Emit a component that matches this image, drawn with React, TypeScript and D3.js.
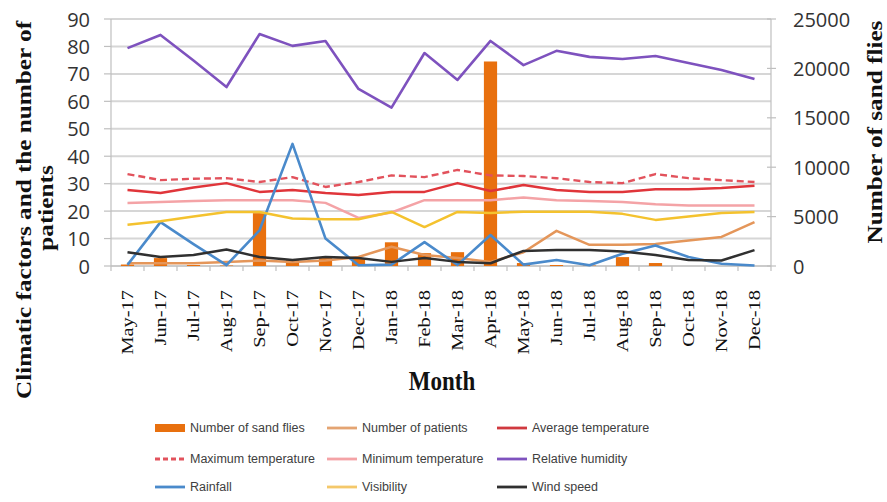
import React from 'react';
import * as d3 from 'd3';

// Monthly observations, May 2017 – Dec 2018
const months = [
  'May-17', 'Jun-17', 'Jul-17', 'Aug-17', 'Sep-17', 'Oct-17', 'Nov-17', 'Dec-17',
  'Jan-18', 'Feb-18', 'Mar-18', 'Apr-18', 'May-18', 'Jun-18', 'Jul-18', 'Aug-18',
  'Sep-18', 'Oct-18', 'Nov-18', 'Dec-18',
];

// Right axis (bars)
const sandFlies = [150, 800, 100, 50, 5350, 600, 800, 800, 2400, 1300, 1400, 20700, 300, 100, 50, 900, 300, 0, 0, 0];

// Left axis (lines)
const patients = [1, 1, 1, 1.5, 2, 1.5, 2, 3.3, 7, 4, 2.9, 1.5, 5, 12.8, 7.7, 7.7, 8, 9.3, 10.6, 16];
const avgTemp = [27.7, 26.6, 28.6, 30.2, 27, 27.7, 26.6, 25.9, 27, 27, 30.2, 27.3, 29.5, 27.7, 27, 27, 28, 28, 28.4, 29.2];
const maxTemp = [33.5, 31.3, 31.8, 32, 30.6, 32.4, 28.8, 30.6, 33, 32.4, 35, 33, 32.8, 32, 30.6, 30.2, 33.5, 32, 31.3, 30.6];
const minTemp = [23, 23.3, 23.7, 24, 24, 24, 23, 17.5, 19.5, 24, 24, 24, 25, 24, 23.7, 23.3, 22.5, 22, 22, 22];
const humidity = [79.4, 84.2, 74.9, 65.2, 84.5, 80.2, 82, 64.5, 57.7, 77.6, 67.8, 82, 73.2, 78.4, 76.2, 75.4, 76.5, 74, 71.4, 68.1];
const rainfall = [0.4, 16, 8, 0.3, 13, 44.5, 10, 0.3, 0.5, 8.7, 0.4, 11.3, 0.5, 2.2, 0.3, 4.5, 7.5, 3.3, 0.8, 0.2];
const visibility = [15, 16.3, 18, 19.7, 19.7, 17.3, 17, 17, 19.7, 14.2, 19.7, 19.3, 19.8, 19.8, 19.8, 19, 16.8, 18, 19.3, 19.7];
const windSpeed = [5, 3.3, 4, 6, 3.3, 2.2, 3.3, 2.9, 1.5, 2.9, 1.5, 1, 5.5, 5.8, 5.8, 5.3, 4, 2.2, 2, 5.8];

const leftTicks = [0, 10, 20, 30, 40, 50, 60, 70, 80, 90];
const rightTicks = [0, 5000, 10000, 15000, 20000, 25000];

const W = 887;
const H = 502;
const plot = { left: 111, right: 771, top: 19, bottom: 266 };

const BAR_COLOR = '#E8700E';

type Series = { name: string; values: number[]; color: string; width: number; dash?: string };

const lineSeries: Series[] = [
  { name: 'Number of patients', values: patients, color: '#E4965A', width: 2.5 },
  { name: 'Average temperature', values: avgTemp, color: '#E0353A', width: 2.5 },
  { name: 'Maximum temperature', values: maxTemp, color: '#E2525C', width: 2.4, dash: '7,4' },
  { name: 'Minimum temperature', values: minTemp, color: '#F4A3A6', width: 2.5 },
  { name: 'Relative humidity', values: humidity, color: '#7E52BE', width: 2.6 },
  { name: 'Rainfall', values: rainfall, color: '#4A8ACB', width: 2.6 },
  { name: 'Visibility', values: visibility, color: '#F4C22E', width: 2.5 },
  { name: 'Wind speed', values: windSpeed, color: '#303030', width: 2.5 },
];

// Legend layout: three columns, three rows
const legendItems = [
  { name: 'Number of sand flies', kind: 'bar', color: BAR_COLOR },
  { name: 'Number of patients', kind: 'line', color: '#E4A472' },
  { name: 'Average temperature', kind: 'line', color: '#D0393F' },
  { name: 'Maximum temperature', kind: 'dash', color: '#E2525C' },
  { name: 'Minimum temperature', kind: 'line', color: '#F4A3A6' },
  { name: 'Relative humidity', kind: 'line', color: '#7E52BE' },
  { name: 'Rainfall', kind: 'line', color: '#4A8ACB' },
  { name: 'Visibility', kind: 'line', color: '#F4C86A' },
  { name: 'Wind speed', kind: 'line', color: '#303030' },
];
const legendCols = [155, 327, 497];
const legendRows = [428, 459, 487];

export default function App() {
  const x = d3.scaleBand<string>().domain(months).range([plot.left, plot.right]);
  const yL = d3.scaleLinear().domain([0, 90]).range([plot.bottom, plot.top]);
  const yR = d3.scaleLinear().domain([0, 25000]).range([plot.bottom, plot.top]);
  const cx = (m: string) => (x(m) as number) + x.bandwidth() / 2;
  const barW = x.bandwidth() * 0.4;

  const lineGen = d3
    .line<number>()
    .x((_, i) => cx(months[i]))
    .y((v) => yL(v));

  const serif = '"Liberation Serif", "Times New Roman", serif';
  const sans = '"Open Sans", "Liberation Sans", sans-serif';
  const legendFont = '"Liberation Sans", Arial, sans-serif';

  return (
    <svg
      width={W}
      height={H}
      viewBox={`0 0 ${W} ${H}`}
      style={{ position: 'absolute', left: 0, top: 0, display: 'block', background: '#fff' }}
    >
      <rect x={0} y={0} width={W} height={H} fill="#fff" />

      {/* horizontal gridlines */}
      {leftTicks.map((t) => (
        <line key={`g${t}`} x1={plot.left} x2={plot.right} y1={yL(t)} y2={yL(t)} stroke="#D6D6D6" strokeWidth={2} />
      ))}

      {/* left axis */}
      <line x1={plot.left} x2={plot.left} y1={plot.top} y2={plot.bottom} stroke="#BFBFBF" strokeWidth={1.2} />
      {leftTicks.map((t) => (
        <g key={`lt${t}`}>
          <line x1={plot.left - 7} x2={plot.left} y1={yL(t)} y2={yL(t)} stroke="#BFBFBF" strokeWidth={1.2} />
          <text
            x={90}
            y={yL(t)}
            textAnchor="end"
            dominantBaseline="central"
            fontFamily={sans}
            fontSize={20}
            fill="#333"
          >
            {t}
          </text>
        </g>
      ))}

      {/* right axis */}
      <line x1={plot.right} x2={plot.right} y1={plot.top} y2={plot.bottom} stroke="#BFBFBF" strokeWidth={1.2} />
      {rightTicks.map((t) => (
        <g key={`rt${t}`}>
          <line x1={plot.right - 4} x2={plot.right + 5} y1={yR(t)} y2={yR(t)} stroke="#BFBFBF" strokeWidth={1.2} />
          <text
            x={793}
            y={yR(t)}
            textAnchor="start"
            dominantBaseline="central"
            fontFamily={sans}
            fontSize={20}
            fill="#333"
          >
            {t}
          </text>
        </g>
      ))}

      {/* bottom axis */}
      <line x1={plot.left} x2={plot.right} y1={plot.bottom} y2={plot.bottom} stroke="#BFBFBF" strokeWidth={1.2} />
      {months.concat(['end']).map((m, i) => {
        const xb = i < months.length ? (x(m) as number) : plot.right;
        return <line key={`xt${i}`} x1={xb} x2={xb} y1={plot.bottom} y2={plot.bottom + 5} stroke="#BFBFBF" strokeWidth={1.2} />;
      })}
      {months.map((m) => (
        <text
          key={`xl${m}`}
          transform={`translate(${cx(m) + 5.5},290) rotate(-90) scale(1.2,1)`}
          textAnchor="end"
          fontFamily={serif}
          fontSize={17}
          fill="#111"
        >
          {m}
        </text>
      ))}

      {/* sand fly bars on the right axis */}
      {months.map((m, i) => (
        <rect
          key={`b${m}`}
          x={cx(m) - barW / 2}
          y={yR(sandFlies[i])}
          width={barW}
          height={plot.bottom - yR(sandFlies[i])}
          fill={BAR_COLOR}
        />
      ))}

      {/* climatic factor and patient lines on the left axis */}
      {lineSeries.map((s) => (
        <path
          key={s.name}
          d={lineGen(s.values) || ''}
          fill="none"
          stroke={s.color}
          strokeWidth={s.width}
          strokeDasharray={s.dash}
          strokeLinejoin="round"
        />
      ))}

      {/* axis titles */}
      <text
        transform={`translate(31,210) rotate(-90) scale(1.2,1)`}
        textAnchor="middle"
        fontFamily={serif}
        fontWeight="bold"
        fontSize={21}
        fill="#111"
      >
        Climatic factors and the number of
      </text>
      <text
        transform={`translate(53,208) rotate(-90) scale(1.2,1)`}
        textAnchor="middle"
        fontFamily={serif}
        fontWeight="bold"
        fontSize={21}
        fill="#111"
      >
        patients
      </text>
      <text
        transform={`translate(882,132) rotate(-90) scale(1.2,1)`}
        textAnchor="middle"
        fontFamily={serif}
        fontWeight="bold"
        fontSize={21}
        fill="#111"
      >
        Number of sand flies
      </text>
      <text
        transform={`translate(442,390) scale(1,1.2)`}
        textAnchor="middle"
        fontFamily={serif}
        fontWeight="bold"
        fontSize={23}
        fill="#111"
      >
        Month
      </text>

      {/* legend */}
      {legendItems.map((it, i) => {
        const lx = legendCols[i % 3];
        const ly = legendRows[Math.floor(i / 3)];
        return (
          <g key={`lg${it.name}`}>
            {it.kind === 'bar' ? (
              <rect x={lx} y={ly - 4} width={30} height={8} fill={it.color} />
            ) : (
              <line
                x1={lx}
                x2={lx + 30}
                y1={ly}
                y2={ly}
                stroke={it.color}
                strokeWidth={2.8}
                strokeDasharray={it.kind === 'dash' ? '5,3' : undefined}
              />
            )}
            <text
              x={lx + 35}
              y={ly}
              dominantBaseline="central"
              fontFamily={legendFont}
              fontSize={12.5}
              fill="#404040"
            >
              {it.name}
            </text>
          </g>
        );
      })}
    </svg>
  );
}
